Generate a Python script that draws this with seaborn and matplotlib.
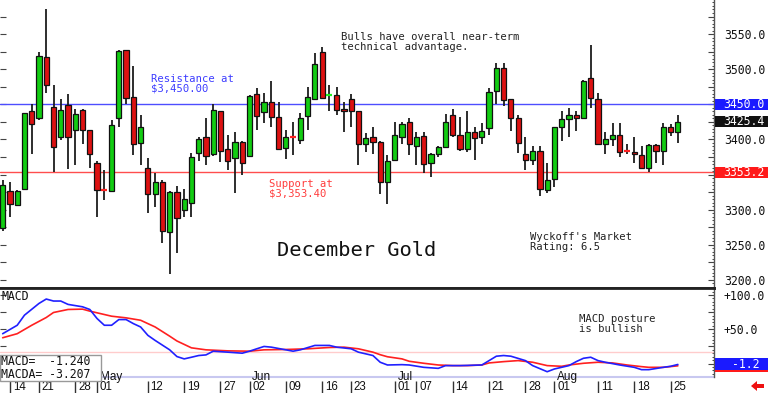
import numpy as np
import pandas as pd
import matplotlib
matplotlib.use("Agg")
import matplotlib.pyplot as plt
import seaborn as sns
from matplotlib.patches import Rectangle, Polygon
from matplotlib.transforms import blended_transform_factory, ScaledTranslation
from matplotlib.ticker import MultipleLocator, FuncFormatter

# ---------------- data ----------------
opens = [3274, 3326, 3306, 3329, 3441, 3430, 3518, 3446, 3403, 3449,
         3414, 3442, 3413, 3367, 3329, 3326, 3430, 3527, 3460, 3395,
         3360, 3322, 3339, 3268, 3325, 3300, 3309, 3381, 3404, 3379,
         3440, 3386, 3373, 3397, 3377, 3464, 3439, 3453, 3432, 3388,
         3404, 3399, 3434, 3457, 3524, 3463, 3463, 3443, 3458, 3440,
         3394, 3403, 3397, 3340, 3371, 3404, 3425, 3390, 3405, 3367,
         3379, 3389, 3435, 3407, 3386, 3410, 3404, 3416, 3469, 3501,
         3457, 3430, 3379, 3371, 3383, 3328, 3344, 3417, 3429, 3435,
         3431, 3487, 3458, 3394, 3400, 3407, 3383.5, 3382, 3378, 3360,
         3392, 3384, 3417, 3411]
highs = [3342, 3340, 3328, 3438, 3451, 3525, 3586, 3478, 3457, 3464,
         3444, 3443, 3414, 3369, 3357, 3428, 3527, 3528, 3505, 3435,
         3374, 3352, 3342, 3326, 3333, 3330, 3380, 3404, 3430, 3451,
         3441, 3407, 3410, 3398, 3463, 3473, 3466, 3483, 3453, 3413,
         3425, 3437, 3474, 3523, 3531, 3477, 3474, 3453, 3464, 3441,
         3409, 3417, 3398, 3378, 3425, 3425, 3431, 3410, 3410, 3380,
         3391, 3436, 3443, 3432, 3441, 3417, 3423, 3473, 3509, 3509,
         3458, 3435, 3404, 3390, 3390, 3367, 3418, 3441, 3445, 3441,
         3484, 3534, 3466, 3410, 3423, 3423, 3394, 3404, 3391, 3394,
         3394, 3424, 3422, 3435]
lows = [3270, 3289, 3305, 3328, 3379, 3428, 3466, 3353, 3399, 3358,
        3364, 3393, 3360, 3290, 3314, 3325, 3417, 3451, 3378, 3364,
        3295, 3304, 3253, 3208, 3238, 3290, 3290, 3370, 3364, 3377,
        3368, 3357, 3324, 3349, 3375, 3413, 3424, 3418, 3386, 3372,
        3378, 3394, 3414, 3456, 3457, 3440, 3435, 3411, 3418, 3364,
        3382, 3379, 3322, 3308, 3369, 3394, 3378, 3363, 3352, 3347,
        3375, 3388, 3404, 3384, 3382, 3371, 3394, 3407, 3451, 3448,
        3412, 3381, 3357, 3363, 3319, 3324, 3332, 3398, 3404, 3412,
        3430, 3445, 3393, 3379, 3391, 3375, 3379, 3367, 3358, 3354,
        3367, 3363, 3405, 3395]
closes = [3335, 3308, 3327, 3437, 3422, 3519, 3477, 3389, 3442, 3403,
          3436, 3413, 3379, 3328, 3328, 3421, 3526, 3459, 3394, 3417,
          3322, 3339, 3269, 3325, 3288, 3315, 3375, 3401, 3377, 3442,
          3384, 3370, 3396, 3367, 3462, 3434, 3454, 3432, 3387, 3403,
          3403, 3431, 3461, 3508, 3459, 3463.5, 3442, 3441, 3440, 3394,
          3402, 3397, 3340, 3370, 3406, 3422, 3394, 3404, 3365, 3379,
          3389, 3425, 3407, 3386, 3410, 3402, 3412, 3467, 3501, 3456,
          3430, 3395, 3371, 3383, 3329, 3342, 3417, 3429, 3435, 3431,
          3483, 3459, 3394, 3400, 3407, 3382, 3383, 3379, 3360, 3392,
          3384, 3417, 3411, 3425.4]

date_idx = [1, 5, 10, 13, 20, 25, 30, 34, 39, 44, 48, 54, 57, 62, 67, 72, 76, 82, 87, 92]
date_labels = ["14", "21", "28", "01", "12", "19", "27", "02", "09", "16", "23",
               "01", "07", "14", "21", "28", "01", "11", "18", "25"]
month_idx = [13, 34, 54, 76]
month_labels = ["May", "Jun", "Jul", "Aug"]

macd_idx = [0, 2, 3, 5, 6, 7, 8, 9, 11, 12, 13, 14, 15, 16, 17, 18, 19, 20, 21, 23,
            24, 25, 26, 27, 28, 29, 31, 33, 34, 35, 36, 37, 39, 40, 41, 43, 45, 46, 48, 49,
            51, 52, 53, 55, 56, 58, 60, 61, 63, 66, 67, 68, 69, 70, 72, 73, 75, 76, 78, 79,
            80, 81, 82, 83, 85, 87, 88, 89, 91, 92, 93]
macd_vals = [43.6, 55.9, 70.6, 87.7, 94.1, 91.2, 91.2, 86.3, 82.8, 78.9,
             65.7, 55.9, 55.9, 64.2, 64.2, 58.3, 53.4, 41.2, 33.8, 20.1,
             10.3, 6.9, 9.3, 11.8, 12.7, 18.1, 16.7, 15.2, 18.1, 21.6,
             25.0, 24.0, 20.1, 18.1, 20.1, 26.5, 26.5, 24.0, 21.6, 16.7,
             11.8, 2.0, -2.0, -1.5, -2.0, -5.4, -6.9, -2.9, -2.9, -2.0,
             4.4, 10.8, 11.8, 10.8, 4.4, -2.9, -11.8, -7.8, -2.9, 2.9,
             7.8, 9.3, 4.4, 2.0, -2.0, -5.4, -8.8, -8.8, -5.4, -3.9,
             -1.24]
sig_idx = [0, 2, 4, 6, 7, 9, 11, 12, 15, 17, 19, 21, 23, 24, 26, 28, 31, 34, 36, 39,
           42, 45, 47, 49, 51, 52, 53, 55, 56, 58, 60, 62, 64, 66, 67, 69, 71, 73, 75, 77,
           78, 80, 82, 84, 86, 88, 89, 91, 93]
sig_vals = [37.7, 43.6, 55.9, 67.2, 74.5, 78.9, 79.4, 76.5, 69.1, 66.7,
            63.2, 53.4, 40.0, 33.0, 23.0, 20.1, 18.6, 18.1, 20.1, 20.6,
            21.6, 23.5, 24.0, 21.6, 16.7, 13.0, 10.0, 6.9, 3.4, 0.5,
            -2.0, -2.9, -2.9, -2.0, 1.0, 2.9, 4.4, 2.0, -2.9, -3.9,
            -2.0, 0.5, 2.0, 1.0, -2.0, -4.4, -5.4, -5.4, -3.207]
macd_ref = 17.6

resistance = 3450.0
support = 3353.2
last_price = closes[-1]

# ---------------- style ----------------
sns.set_theme(style="white")
plt.rcParams['font.family'] = ['DejaVu Sans Mono', 'DejaVu Sans']

GREEN = '#12cc12'
RED = '#dd1111'
W, H = 768, 393

def fx(px):
    return px / W

def fy(py):
    return 1 - py / H

fig = plt.figure(figsize=(7.68, 3.93), dpi=100)
fig.patch.set_facecolor('white')
ax1 = fig.add_axes([0, fy(288), fx(714), 288 / H])
ax2 = fig.add_axes([0, fy(377), fx(714), (377 - 288) / H])

XL = (-0.37, 97.98)

# ---------------- price panel ----------------
df = pd.DataFrame(dict(idx=np.arange(len(opens)), o=opens, h=highs, l=lows, c=closes))
doji = (df.c - df.o).abs() < 1.6
ax1.vlines(df.idx, df.l, df.h, color='#1c1c1c', lw=1.3, zorder=2)
body = df[~doji]
ax1.bar(body.idx, (body.c - body.o).abs(), bottom=np.minimum(body.o, body.c), width=0.72,
        color=np.where(body.c >= body.o, GREEN, RED), edgecolor='#111111', linewidth=0.9, zorder=3)
dj = df[doji]
ax1.hlines(dj.c, dj.idx - 0.4, dj.idx + 0.4, colors=list(np.where(dj.c >= dj.o, '#22ee22', '#ff2222')),
           lw=1.6, zorder=4)

ax1.axhline(resistance, color='#4d4dff', lw=1, zorder=1)
ax1.axhline(support, color='#ff4d4d', lw=1, zorder=1)

hidden_price = {3350.0, 3450.0}   # covered by the value boxes
ax1.set_xlim(*XL)
ax1.set_ylim(3188.5, 3598.5)
ax1.yaxis.tick_right()
ax1.yaxis.set_major_locator(MultipleLocator(25))
ax1.yaxis.set_minor_locator(MultipleLocator(5))
ax1.yaxis.set_major_formatter(FuncFormatter(
    lambda v, p: f"{v:.1f}" if abs(v % 50) < 1e-6 and round(v, 1) not in hidden_price else ""))
ax1.tick_params(axis='y', which='major', direction='in', length=4, width=0.8, color='#444444',
                left=True, right=True, labelleft=False, labelright=True, pad=7,
                labelsize=8.3, labelcolor='#111111')
ax1.tick_params(axis='y', which='minor', direction='in', length=1.8, width=0.7, color='#444444',
                left=False, right=True)
ax1.tick_params(axis='x', bottom=False, labelbottom=False)
for s in ['top', 'left']:
    ax1.spines[s].set_visible(False)
ax1.spines['right'].set_color('#555555')
ax1.spines['right'].set_linewidth(1)
ax1.spines['bottom'].set_color('#222222')
ax1.spines['bottom'].set_linewidth(2)

# ---------------- MACD panel ----------------
ax2.axhline(macd_ref, color='#ffcccc', lw=1, zorder=1)
sns.lineplot(x=sig_idx, y=sig_vals, ax=ax2, color='#ff2020', lw=1.2, zorder=3)
sns.lineplot(x=macd_idx, y=macd_vals, ax=ax2, color='#2020ff', lw=1.2, zorder=4)
ax2.set_xlim(*XL)
ax2.set_ylim(-19.5, 110.2)
ax2.set_ylabel("")
ax2.yaxis.tick_right()
ax2.yaxis.set_major_locator(MultipleLocator(25))
ax2.yaxis.set_minor_locator(MultipleLocator(5))
ax2.yaxis.set_major_formatter(FuncFormatter(lambda v, p: f"+{v:.1f}" if v > 0 and abs(v % 50) < 1e-6 else ""))
ax2.tick_params(axis='y', which='major', direction='in', length=4, width=0.8, color='#444444',
                left=True, right=True, labelleft=False, labelright=True, pad=7,
                labelsize=8.3, labelcolor='#111111')
ax2.tick_params(axis='y', which='minor', direction='in', length=1.8, width=0.7, color='#444444',
                left=False, right=True)
ax2.axhline(-19.5, color='#c8c8f0', lw=1.5, zorder=2, clip_on=False)

ax2.set_xticks(date_idx)
ax2.set_xticklabels(date_labels)
ax2.spines['bottom'].set_position(('outward', 3))
ax2.spines['bottom'].set_visible(False)
ax2.tick_params(axis='x', direction='out', length=8.6, width=1, color='#333333', pad=-8.4,
                labelsize=8.3, labelcolor='#111111', bottom=True)
off = ScaledTranslation(2 / 72, 0, fig.dpi_scale_trans)
for lbl in ax2.get_xticklabels():
    lbl.set_ha('left')
    lbl.set_fontfamily('Liberation Sans')
    lbl.set_transform(lbl.get_transform() + off)
ax2.spines['left'].set_visible(False)
ax2.spines['top'].set_color('#222222')
ax2.spines['top'].set_linewidth(2)
ax2.spines['right'].set_color('#555555')
ax2.spines['right'].set_linewidth(1)

mtrans = blended_transform_factory(ax2.transData, ax2.transAxes) + off
for mi, ml in zip(month_idx, month_labels):
    ax2.text(mi, -0.03, ml, transform=mtrans, ha='left', va='baseline', fontsize=8.5,
             family='Liberation Sans', color='#111111', zorder=6, clip_on=False)

# ---------------- right-hand value boxes ----------------
bt1 = blended_transform_factory(fig.transFigure, ax1.transData)
bh1 = 11.5 / 0.7025
for val, col in [(resistance, '#1a1aff'), (last_price, '#111111'), (support, '#ff1a1a')]:
    fig.add_artist(Rectangle((fx(714.5), val - bh1 / 2), 1 - fx(714.5), bh1, transform=bt1,
                             facecolor=col, edgecolor='none', zorder=5))
    fig.text(fx(723), val, f"{val:.1f}", transform=bt1, ha='left', va='center',
             fontsize=8.3, color='white', zorder=6)

bt2 = blended_transform_factory(fig.transFigure, ax2.transData)
bh2 = 12 / 0.686
for val, col in [(sig_vals[-1], '#ff1a1a'), (macd_vals[-1], '#1a1aff')]:
    fig.add_artist(Rectangle((fx(714.5), val - bh2 / 2), 1 - fx(714.5), bh2, transform=bt2,
                             facecolor=col, edgecolor='none', zorder=5))
fig.text(fx(759), macd_vals[-1], f"{macd_vals[-1]:.1f}", transform=bt2, ha='right', va='center',
         fontsize=8.3, color='white', zorder=7)

# ---------------- annotations ----------------
ann = dict(fontsize=7.6, va='top', ha='left', linespacing=0.95)
fig.text(fx(151), fy(74), "Resistance at\n$3,450.00", color='#3c3cff', **ann)
fig.text(fx(269), fy(179), "Support at\n$3,353.40", color='#ff3c3c', **ann)
fig.text(fx(341), fy(32), "Bulls have overall near-term\ntechnical advantage.", color='#222222', **ann)
fig.text(fx(530), fy(232), "Wyckoff's Market\nRating: 6.5", color='#222222', **ann)
fig.text(fx(579), fy(314), "MACD posture\nis bullish", color='#222222', **ann)
fig.text(fx(277), fy(256), "December Gold", fontsize=14.7, ha='left', va='baseline', color='#111111')
fig.text(fx(2), fy(290), "MACD", fontsize=8.3, ha='left', va='top', color='#111111')

fig.add_artist(Rectangle((0, fy(381)), fx(101), (381 - 355) / H, transform=fig.transFigure,
                         facecolor='white', edgecolor='#999999', lw=1, zorder=8))
fig.text(fx(1), fy(368), f"MACD=  {macd_vals[-1]:.3f}\nMACDA= {sig_vals[-1]:.3f}",
         fontsize=8.3, ha='left', va='center', linespacing=1.0, color='#111111', zorder=9)

# red arrow bottom right
arrow_px = [(751, 386), (757, 381), (757, 384), (764, 384), (764, 388), (757, 388), (757, 391)]
fig.add_artist(Polygon([(fx(a), fy(b)) for a, b in arrow_px], closed=True, transform=fig.transFigure,
                       facecolor='#ee1111', edgecolor='none', zorder=9))

fig.savefig("out.png", dpi=100, facecolor='white')
